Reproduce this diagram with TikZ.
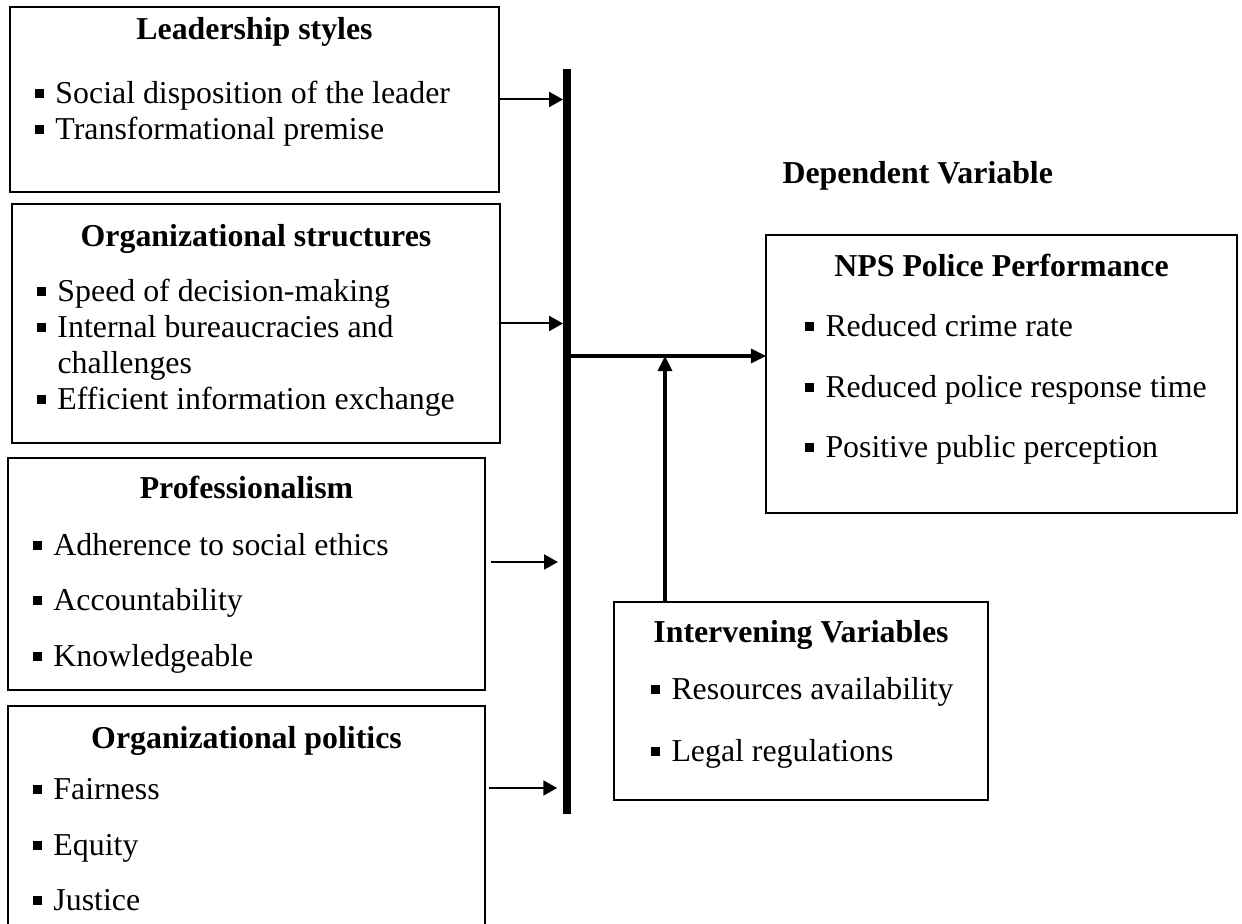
\documentclass[tikz,border=0pt]{standalone}
\usepackage{fontspec}
\setmainfont{Liberation Serif}
\usetikzlibrary{arrows.meta,positioning}
\newcommand{\sq}{\makebox[7.9pt][l]{\rule[2.3pt]{3.4pt}{3.4pt}}}
\def\u{0.3768pt}

\begin{document}
\begin{tikzpicture}[
  x=\u, y=-\u,
  box/.style={draw, line width=0.55pt, anchor=north west, inner sep=0pt, outer sep=0pt},
  head/.style={font=\fontsize{12}{14}\selectfont\bfseries, anchor=base, inner sep=0pt},
  item/.style={font=\fontsize{12}{14}\selectfont, anchor=base west, inner sep=0pt},
  link/.style={line width=0.75pt, -{Triangle[length=5.2pt, width=5.6pt]}},
  mainlink/.style={line width=1.15pt, -{Triangle[length=5.7pt, width=5.3pt]}}
]
\clip (0,0) rectangle (1242,924);

% Leadership styles
\node[box, minimum width=489*\u, minimum height=185*\u] (lead) at (10,7) {};
\node[head] (leadhead) at (lead.north |- 0,40) {Leadership styles};
\node[item] (lead1) at (34,104) {\sq Social disposition of the leader};
\node[item] (lead2) at (34,140) {\sq Transformational premise};

% Organizational structures
\node[box, minimum width=488*\u, minimum height=239*\u] (orgs) at (12,204) {};
\node[head] (orgshead) at (orgs.north |- 0,247) {Organizational structures};
\node[item] (orgs1) at (36,302) {\sq Speed of decision-making};
\node[item] (orgs2) at (36,338) {\sq Internal bureaucracies and};
\node[item] (orgs3) at (57,374) {challenges};
\node[item] (orgs4) at (36,410) {\sq Efficient information exchange};

% Professionalism
\node[box, minimum width=477*\u, minimum height=232*\u] (prof) at (8,458) {};
\node[head] (profhead) at (prof.north |- 0,499) {Professionalism};
\node[item] (prof1) at (32,556) {\sq Adherence to social ethics};
\node[item] (prof2) at (32,611) {\sq Accountability};
\node[item] (prof3) at (32,667) {\sq Knowledgeable};

% Organizational politics
\node[box, minimum width=477*\u, minimum height=240*\u] (pol) at (8,706) {};
\node[head] (polhead) at (pol.north |- 0,749) {Organizational politics};
\node[item] (pol1) at (32,800) {\sq Fairness};
\node[item] (pol2) at (32,856) {\sq Equity};
\node[item] (pol3) at (32,911) {\sq Justice};

% collecting bar
\node[fill=black, inner sep=0pt, outer sep=0pt, minimum width=8*\u, minimum height=745*\u,
  anchor=north] (bar) at (567,69) {};

% Dependent variable
\node[head, anchor=base west] (dep) at (782,184) {Dependent Variable};
\node[box, minimum width=471*\u, minimum height=278*\u] (nps) at (766,235) {};
\node[head] (npshead) at (nps.north |- 0,277) {NPS Police Performance};
\node[item] (nps1) at (804,337) {\sq Reduced crime rate};
\node[item] (nps2) at (804,398) {\sq Reduced police response time};
\node[item] (nps3) at (804,458) {\sq Positive public perception};

% Intervening variables
\node[box, minimum width=374*\u, minimum height=198*\u] (inter) at (614,602) {};
\node[head] (interhead) at (inter.north |- 0,643) {Intervening Variables};
\node[item] (inter1) at (650,700) {\sq Resources availability};
\node[item] (inter2) at (650,762) {\sq Legal regulations};

% connectors
\coordinate (profout) at (491,562);
\coordinate (polout) at (489,788);
\coordinate (join) at (665,356);
\draw[link] (lead.east) -- (lead.east -| bar.west);
\draw[link] (orgs.east) -- (orgs.east -| bar.west);
\draw[link, shorten >=1.9pt] (profout) -- (profout -| bar.west);
\draw[link, shorten >=2.2pt] (polout) -- (polout -| bar.west);
\draw[line width=1.15pt] (bar.east |- join) -- (join);
\draw[mainlink] (join) -- (join -| nps.west);
\draw[mainlink] (inter.north -| join) -- (join);
\end{tikzpicture}
\end{document}
